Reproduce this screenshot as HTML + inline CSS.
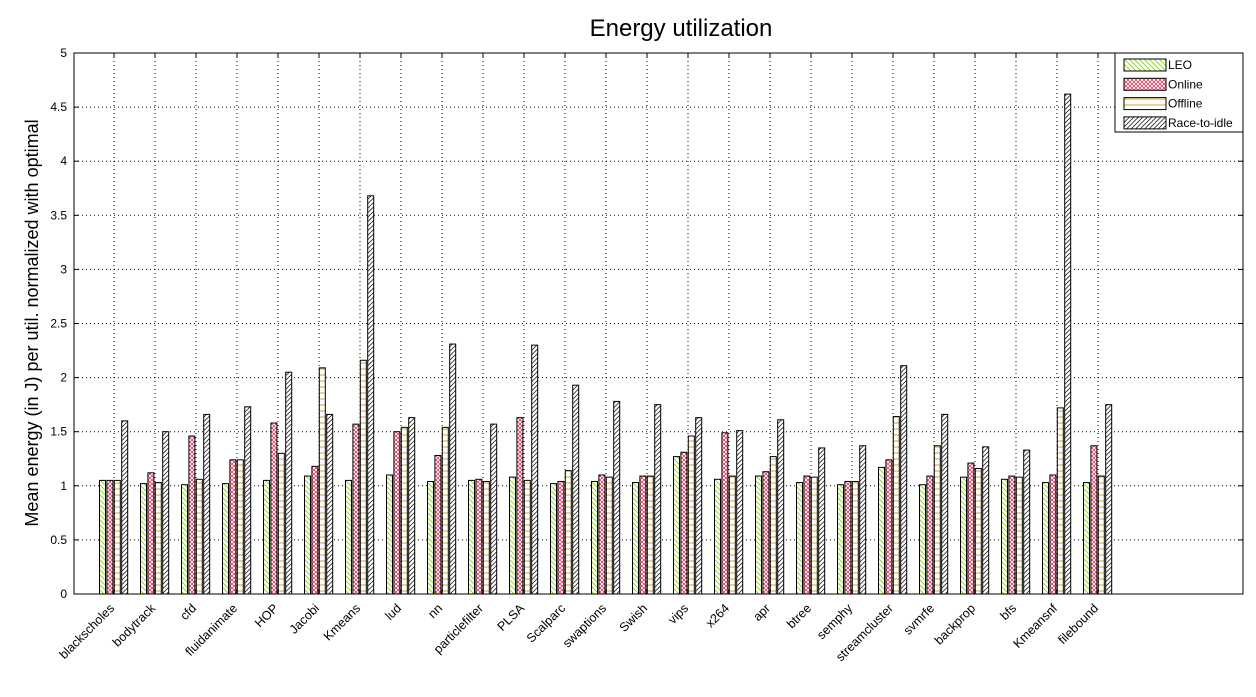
<!DOCTYPE html>
<html><head><meta charset="utf-8"><style>
body{margin:0;background:#fff;width:1256px;height:692px;overflow:hidden}
svg{font-family:"Liberation Sans",sans-serif}
</style></head><body>
<svg id="c" width="1256" height="692">
<defs>
<pattern id="pLEO" width="5" height="5" patternUnits="userSpaceOnUse"><rect width="5" height="5" fill="#fff"/><path d="M0,0 L5,5 M-1,4 L1,6 M4,-1 L6,1" stroke="#7fd400" stroke-width="0.8"/></pattern>
<pattern id="pOn" width="4" height="4" patternUnits="userSpaceOnUse"><rect width="4" height="4" fill="#fff"/><path d="M0,0 L4,4 M4,0 L0,4" stroke="#e0204a" stroke-width="0.7"/></pattern>
<pattern id="pOff" width="6" height="6" patternUnits="userSpaceOnUse"><rect width="6" height="6" fill="#fff"/><path d="M0,3 L6,3" stroke="#d4a030" stroke-width="1"/></pattern>
<pattern id="pRace" width="4.5" height="4.5" patternUnits="userSpaceOnUse"><rect width="4.5" height="4.5" fill="#fff"/><path d="M0,4.5 L4.5,0 M-1,1 L1,-1 M3.5,5.5 L5.5,3.5" stroke="#000" stroke-width="0.7"/></pattern>
</defs>
</svg>
<script>
const categories=["blackscholes","bodytrack","cfd","fluidanimate","HOP","Jacobi","Kmeans","lud","nn","particlefilter","PLSA","Scalparc","swaptions","Swish","vips","x264","apr","btree","semphy","streamcluster","svmrfe","backprop","bfs","Kmeansnf","filebound"];
const leo=[1.05,1.02,1.01,1.02,1.05,1.09,1.05,1.10,1.04,1.05,1.08,1.02,1.04,1.03,1.27,1.06,1.09,1.03,1.01,1.17,1.01,1.08,1.06,1.03,1.03];
const online=[1.05,1.12,1.46,1.24,1.58,1.18,1.57,1.50,1.28,1.06,1.63,1.04,1.10,1.09,1.31,1.49,1.13,1.09,1.04,1.24,1.09,1.21,1.09,1.10,1.37];
const offline=[1.05,1.03,1.06,1.24,1.30,2.09,2.16,1.54,1.54,1.04,1.05,1.14,1.08,1.09,1.46,1.09,1.27,1.08,1.04,1.64,1.37,1.16,1.08,1.72,1.09];
const race=[1.60,1.50,1.66,1.73,2.05,1.66,3.68,1.63,2.31,1.57,2.30,1.93,1.78,1.75,1.63,1.51,1.61,1.35,1.37,2.11,1.66,1.36,1.33,4.62,1.75];
const yTicks=["0","0.5","1","1.5","2","2.5","3","3.5","4","4.5","5"];
const seriesNames=["LEO","Online","Offline","Race-to-idle"];
const fills=["url(#pLEO)","url(#pOn)","url(#pOff)","url(#pRace)"];
const NS="http://www.w3.org/2000/svg",svg=document.getElementById('c');
const L=74,R=1243,T=53,B=594;
const y=v=>B-(v/5)*(B-T);
const x=i=>114+41*i;
function mk(t,a,p){const e=document.createElementNS(NS,t);for(const k in a)e.setAttribute(k,a[k]);(p||svg).appendChild(e);return e;}
const grid=mk('g',{});


yTicks.forEach((t,k)=>{const v=parseFloat(t),yy=y(v);
 if(k>0&&k<yTicks.length-1)mk('line',{x1:L,x2:R,y1:yy,y2:yy,stroke:'#000','stroke-dasharray':'1,3','stroke-width':1},grid);
 mk('line',{x1:L,x2:L+5,y1:yy,y2:yy,stroke:'#000'},grid);mk('line',{x1:R-5,x2:R,y1:yy,y2:yy,stroke:'#000'},grid);
 const tx=mk('text',{x:L-7,y:yy+4,'text-anchor':'end','font-size':12});tx.textContent=t;
 
 
});
categories.forEach((c,i)=>{const xx=x(i);
 mk('line',{x1:xx,x2:xx,y1:T,y2:B,stroke:'#000','stroke-dasharray':'1,3'},grid);
 mk('line',{x1:xx,x2:xx,y1:B,y2:B-5,stroke:'#000'},grid);mk('line',{x1:xx,x2:xx,y1:T,y2:T+5,stroke:'#000'},grid);
 const ax0=xx+1,ay0=609;
 const tx=mk('text',{x:ax0,y:ay0,'text-anchor':'end','font-size':12.5,transform:`rotate(-45 ${ax0} ${ay0})`});tx.textContent=c;
 
 
});
const series=[leo,online,offline,race];
series.forEach((s,j)=>{s.forEach((v,i)=>{const bx=x(i)-14.5+j*7.4;
 const r=mk('rect',{x:bx,y:y(v),width:6,height:B-y(v),fill:fills[j],stroke:'#000','stroke-width':1});
 
 
});});
const ax=mk('rect',{x:L,y:T,width:R-L,height:B-T,fill:'none',stroke:'#000','stroke-width':1});


const tt=mk('text',{x:681,y:36,'text-anchor':'middle','font-size':24});tt.textContent='Energy utilization';


const yl=mk('text',{x:38,y:323,'text-anchor':'middle','font-size':18,transform:'rotate(-90 38 323)'});yl.textContent='Mean energy (in J) per util. normalized with optimal';


const lg=mk('g',{});


mk('rect',{x:1115,y:53,width:128,height:79,fill:'#fff',stroke:'#000'},lg);
seriesNames.forEach((n,j)=>{const yy=59+j*19.3;
 const e=mk('g',{},lg);
 
 
 mk('rect',{x:1124,y:yy,width:42,height:12,fill:fills[j],stroke:'#000'},e);
 const t=mk('text',{x:1168,y:yy+10,'font-size':12},e);t.textContent=n;});
</script>
</body></html>
